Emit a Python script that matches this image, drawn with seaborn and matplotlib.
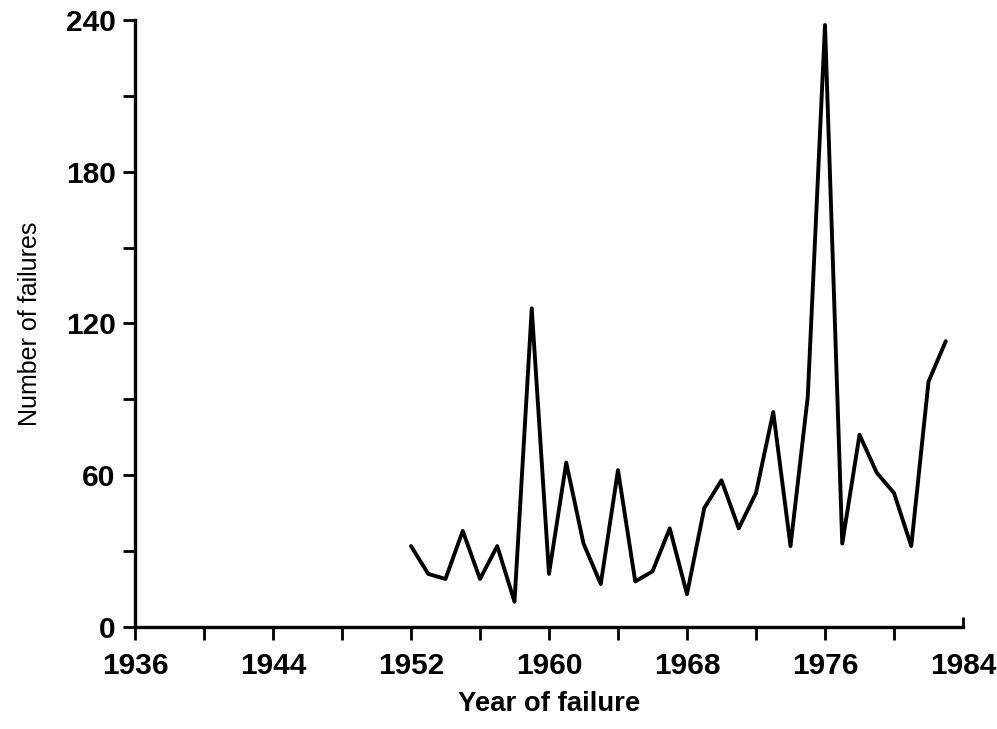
import matplotlib
matplotlib.use('Agg')
import matplotlib.pyplot as plt
import matplotlib.lines as mlines
import numpy as np
import pandas as pd
import seaborn as sns

# failures per year
years = list(range(1952, 1984))
failures = [32, 21, 19, 38, 19, 32, 10, 126, 21, 65, 33, 17, 62, 18, 22, 39,
            13, 47, 58, 39, 53, 85, 32, 91, 238, 33, 76, 61, 53, 32, 97, 113]

x_ticks = list(range(1936, 1985, 4))
x_labels = [str(y) if (y - 1936) % 8 == 0 else '' for y in x_ticks]
y_ticks = list(range(0, 241, 30))
y_labels = [str(v) if v % 60 == 0 else '' for v in y_ticks]

df = pd.DataFrame({'Year of failure': years, 'Number of failures': failures})

sns.set_style('ticks')
plt.rcParams['font.family'] = ['Liberation Sans', 'DejaVu Sans']
plt.rcParams['text.color'] = 'black'
plt.rcParams['axes.labelcolor'] = 'black'
plt.rcParams['xtick.color'] = 'black'
plt.rcParams['ytick.color'] = 'black'

fig = plt.figure(figsize=(9.97, 7.29), dpi=100)
ax = fig.add_axes([0.1354, 0.1399, 0.9659 - 0.1354, 0.9726 - 0.1399])

sns.lineplot(data=df, x='Year of failure', y='Number of failures', ax=ax,
             color='black', linewidth=2.8)

ax.set_xlim(1936, 1984)
ax.set_ylim(0, 240)
ax.set_xticks(x_ticks)
ax.set_xticklabels(x_labels, fontsize=21.5, fontweight='bold')
ax.set_yticks(y_ticks)
ax.set_yticklabels(y_labels, fontsize=21.5, fontweight='bold')
ax.tick_params(axis='x', direction='out', length=9, width=2, pad=9,
               color='black', labelcolor='black')
ax.tick_params(axis='y', direction='out', length=9, width=2, pad=5,
               color='black', labelcolor='black')

ax.set_xlabel('Year of failure', fontsize=19.8, fontweight='bold', labelpad=8, color='black')
ax.set_ylabel('Number of failures', fontsize=18, labelpad=17, color='black')

for side in ['top', 'right']:
    ax.spines[side].set_visible(False)
for side in ['left', 'bottom']:
    ax.spines[side].set_linewidth(2.4)
    ax.spines[side].set_color('black')

# the last x tick points up in the original
ax.xaxis.get_major_ticks()[-1].tick1line.set_marker(mlines.TICKUP)
ax.xaxis.get_major_ticks()[-1].tick1line.set_markersize(7)

ax.grid(False)
fig.savefig('out.png', dpi=100)
